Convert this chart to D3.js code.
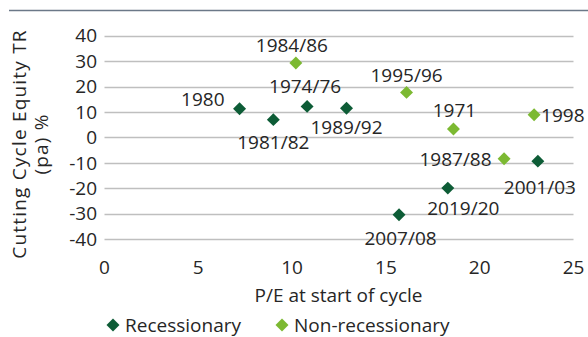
<!DOCTYPE html>
<html>
<head>
<meta charset="utf-8">
<script src="https://cdn.jsdelivr.net/npm/d3@7/dist/d3.min.js"></script>
<style>
  html, body { margin: 0; padding: 0; background: #fff; }
  svg { display: block; font-family: "Open Sans", sans-serif; }
  text { fill: #262626; }
</style>
</head>
<body>
<svg id="chart" width="588" height="337"></svg>
<script>
// ---- Data ----
const recessionaryLabels = ["1980", "1981/82", "1974/76", "1989/92", "2001/03", "2019/20", "2007/08"];
const recessionaryPE     = [7.2, 9.0, 10.8, 12.9, 23.1, 18.3, 15.7];
const recessionaryTR     = [11.3, 7.0, 12.2, 11.5, -9.3, -19.9, -30.4];

const nonRecessionaryLabels = ["1984/86", "1995/96", "1971", "1998", "1987/88"];
const nonRecessionaryPE     = [10.2, 16.1, 18.6, 22.9, 21.3];
const nonRecessionaryTR     = [29.2, 17.7, 3.3, 8.9, -8.4];

const xTicks = [0, 5, 10, 15, 20, 25];
const yTicks = [40, 30, 20, 10, 0, -10, -20, -30, -40];

const seriesNames = ["Recessionary", "Non-recessionary"];
const seriesColors = ["#0d5c36", "#7cb932"];

// ---- Layout ----
const svg = d3.select("#chart");
const FS = 19;

const x = d3.scaleLinear().domain([0, 25]).range([104.5, 573.5]);
const y = d3.scaleLinear().domain([-40, 40]).range([239.3, 35.6]);

// label placement (layout only)
const labelPos = {
  "1980":    {dx: -15, dy: -9,  anchor: "end"},
  "1981/82": {dx: 0,   dy: 23,  anchor: "middle"},
  "1974/76": {dx: -2,  dy: -20, anchor: "middle"},
  "1989/92": {dx: 0,   dy: 19,  anchor: "middle"},
  "2001/03": {dx: 2,   dy: 26,  anchor: "middle"},
  "2019/20": {dx: 15.5,dy: 20,  anchor: "middle"},
  "2007/08": {dx: 1.5, dy: 23,  anchor: "middle"},
  "1984/86": {dx: -4,  dy: -18, anchor: "middle"},
  "1995/96": {dx: 0,   dy: -17, anchor: "middle"},
  "1971":    {dx: 1,   dy: -19, anchor: "middle"},
  "1998":    {dx: 7,   dy: 1,   anchor: "start"},
  "1987/88": {dx: -12.5, dy: 1, anchor: "end"}
};

// top rule
svg.append("line").attr("x1", 9).attr("x2", 588).attr("y1", 10.5).attr("y2", 10.5)
  .attr("stroke", "#6b7888").attr("stroke-width", 1.5);

// gridlines
svg.append("g").selectAll("line").data(yTicks).join("line")
  .attr("x1", x(0)).attr("x2", x(25))
  .attr("y1", d => Math.round(y(d)) + 0.5).attr("y2", d => Math.round(y(d)) + 0.5)
  .attr("stroke", "#bfbfbf").attr("stroke-width", 1.3);

// y tick labels
svg.append("g").selectAll("text").data(yTicks).join("text")
  .attr("x", 97).attr("y", d => y(d))
  .attr("dy", "0.35em").attr("text-anchor", "end")
  .attr("font-size", FS).text(d => d);

// x tick labels
svg.append("g").selectAll("text").data(xTicks).join("text")
  .attr("x", d => x(d)).attr("y", 267)
  .attr("dy", "0.35em").attr("text-anchor", "middle")
  .attr("font-size", FS).text(d => d);

// axis titles
svg.append("text").attr("x", 338.5).attr("y", 295).attr("dy", "0.35em")
  .attr("text-anchor", "middle").attr("font-size", FS).text("P/E at start of cycle");

const yt = svg.append("text").attr("transform", "translate(19,144) rotate(-90)")
  .attr("text-anchor", "middle").attr("font-size", FS).attr("letter-spacing", 1.2);
yt.append("tspan").attr("x", 0).attr("dy", "0.35em").text("Cutting Cycle Equity TR");
yt.append("tspan").attr("x", 0).attr("dy", "1.2em").text("(pa) %");

// points
const square = d3.symbol().type(d3.symbolSquare).size(84);

function drawSeries(labels, pe, tr, color) {
  const data = labels.map((l, i) => ({label: l, pe: pe[i], tr: tr[i]}));
  const g = svg.append("g");
  g.selectAll("path").data(data).join("path")
    .attr("transform", d => `translate(${x(d.pe)},${y(d.tr)}) rotate(45)`)
    .attr("d", square).attr("fill", color);
  g.selectAll("text").data(data).join("text")
    .attr("x", d => x(d.pe) + labelPos[d.label].dx)
    .attr("y", d => y(d.tr) + labelPos[d.label].dy)
    .attr("dy", "0.35em")
    .attr("text-anchor", d => labelPos[d.label].anchor)
    .attr("font-size", FS).text(d => d.label);
}
drawSeries(recessionaryLabels, recessionaryPE, recessionaryTR, seriesColors[0]);
drawSeries(nonRecessionaryLabels, nonRecessionaryPE, nonRecessionaryTR, seriesColors[1]);

// legend
const legendX = [113, 282];
const lg = svg.append("g").selectAll("g").data(seriesNames).join("g")
  .attr("transform", (d, i) => `translate(${legendX[i]},325)`);
lg.append("path").attr("d", square).attr("transform", "rotate(45)")
  .attr("fill", (d, i) => seriesColors[i]);
lg.append("text").attr("x", 12).attr("dy", "0.35em").attr("font-size", FS).text(d => d);
</script>
</body>
</html>
